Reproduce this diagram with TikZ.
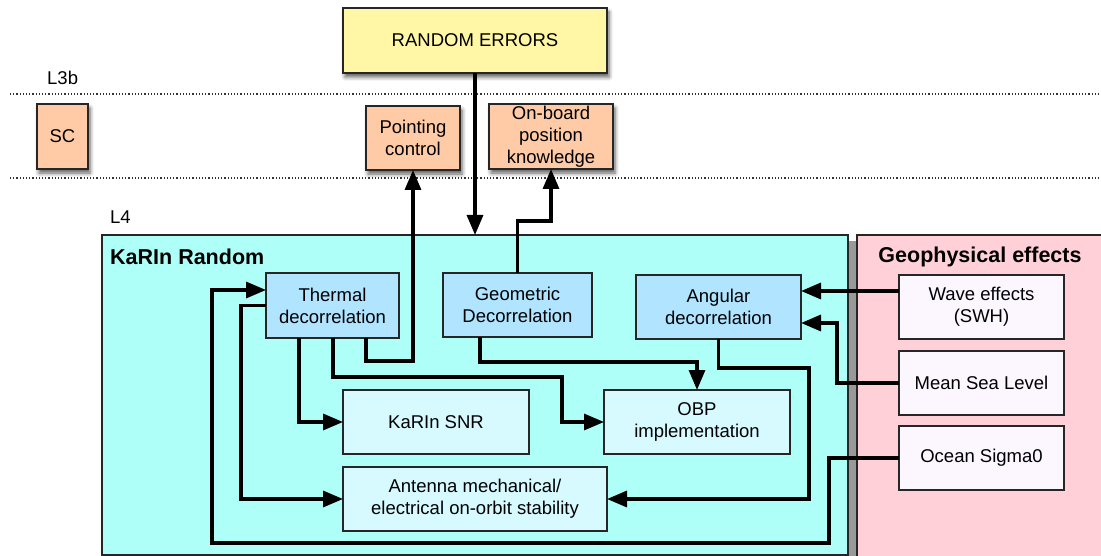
\documentclass[tikz,border=0pt]{standalone}
\usepackage{fontspec}
\setmainfont{Liberation Sans}
\usetikzlibrary{shadows,shadows.blur,arrows.meta}
\definecolor{yel}{HTML}{FFF6A6}
\definecolor{peach}{HTML}{FFCBA6}
\definecolor{aqua}{HTML}{ADFFF7}
\definecolor{pinkbg}{HTML}{FFD0D8}
\definecolor{midblue}{HTML}{B0E4FF}
\definecolor{lightblue}{HTML}{D6FAFF}
\definecolor{whitish}{HTML}{FCF6FF}
\tikzset{
  box/.style={draw=black!85, line width=1.3pt, inner sep=0pt, outer sep=0pt, align=center,
    font=\fontsize{18.5}{22}\selectfont},
  shad/.style={blur shadow={shadow xshift=2pt, shadow yshift=-4pt, shadow blur radius=4pt, shadow opacity=65}},
  arr/.style={line width=3.2pt, -{Triangle[length=20pt,width=16pt]}},
  lvl/.style={dotted, line width=1.2pt, black!80},
  title/.style={font=\fontsize{21.5}{25}\selectfont\bfseries, inner sep=0pt},
  lbl/.style={font=\fontsize{18.5}{22}\selectfont, inner sep=0pt, anchor=west}
}
\newcommand{\bx}[7]{% name, x1, y1, x2, y2, style, text
  \node[box, #6, minimum width={(#4-#2)*1pt}, minimum height={(#5-#3)*1pt}] (#1) at ({(#2+#4)/2},{(#3+#5)/2}) {#7};}
\begin{document}
\begin{tikzpicture}[x=1pt,y=-1pt]
\useasboundingbox (0,0) rectangle (1101,556);
% level lines
\draw[lvl] (10,94) -- (1101,94);
\draw[lvl] (10,178) -- (1101,178);
\node[lbl] (l3b) at (47,78) {L3b};
\node[lbl] (l4) at (110,217) {L4};
% background panels
\fill[black!40] (848,241) rectangle (857,556);
\bx{karin}{102}{235}{848}{555}{fill=aqua}{}
\bx{geo}{857}{235}{1103}{558}{fill=pinkbg}{}
\node[title, anchor=west] (karint) at (110,257) {KaRIn Random};
\node[title] (geot) at (980,257) {Geophysical effects};
% top boxes
\bx{random}{343}{8}{607}{73}{fill=yel, shad}{RANDOM ERRORS}
\bx{sc}{37}{104}{88}{169}{fill=peach, shad}{SC}
\bx{pointing}{366}{106}{460}{170}{fill=peach, shad}{Pointing\\control}
\bx{onboard}{489}{104}{613}{169}{fill=peach, shad}{On-board\\position\\knowledge}
% KaRIn boxes
\bx{thermal}{266}{273}{399}{338}{fill=midblue}{Thermal\\decorrelation}
\bx{geometric}{443}{273}{592}{337}{fill=midblue}{Geometric\\Decorrelation}
\bx{angular}{636}{275}{801}{339}{fill=midblue}{Angular\\decorrelation}
\bx{snr}{343}{390}{529}{454}{fill=lightblue}{KaRIn SNR}
\bx{obp}{604}{390}{790}{454}{fill=lightblue}{OBP\\implementation}
\bx{antenna}{343}{467}{607}{531}{fill=lightblue}{Antenna mechanical/\\electrical on-orbit stability}
% geophysical boxes
\bx{wave}{899}{275}{1064}{339}{fill=whitish}{Wave effects\\(SWH)}
\bx{msl}{899}{351}{1064}{415}{fill=whitish}{Mean Sea Level}
\bx{ocean}{899}{426}{1064}{490}{fill=whitish}{Ocean Sigma0}
% connectors
\draw[arr] (random.south) -- (random.south |- karin.north);
\draw[arr] ([xshift=100pt]thermal.south west) -- ++(0,23) -| (pointing.south);
\draw[arr] (geometric.north) -- ++(0,-52) -| (onboard.south);
\coordinate (o1) at (829,543);
\coordinate (o2) at (212,290);
\draw[arr] (ocean.west) -| (o1) -| (o2) -- ([yshift=15.5pt]thermal.west);
\draw[arr] (thermal.west) -- ++(-25,0) |- (antenna.west);
\draw[arr] ([xshift=33pt]thermal.south west) |- (snr.west);
\coordinate (t1) at (562,377);
\draw[arr] ([xshift=67pt]thermal.south west) |- (t1) |- (obp.west);
\draw[arr] ([xshift=37pt]geometric.south west) -- ++(0,25) -| (obp.north);
\coordinate (a1) at (809,499);
\draw[arr] (angular.south) -- ++(0,29) -| (a1) -- (antenna.east);
\draw[arr] ([yshift=16pt]wave.west) -- ([yshift=16pt]angular.east);
\draw[arr] (msl.west) -- ++(-62,0) |- ([yshift=-16pt]angular.east);
\end{tikzpicture}
\end{document}
